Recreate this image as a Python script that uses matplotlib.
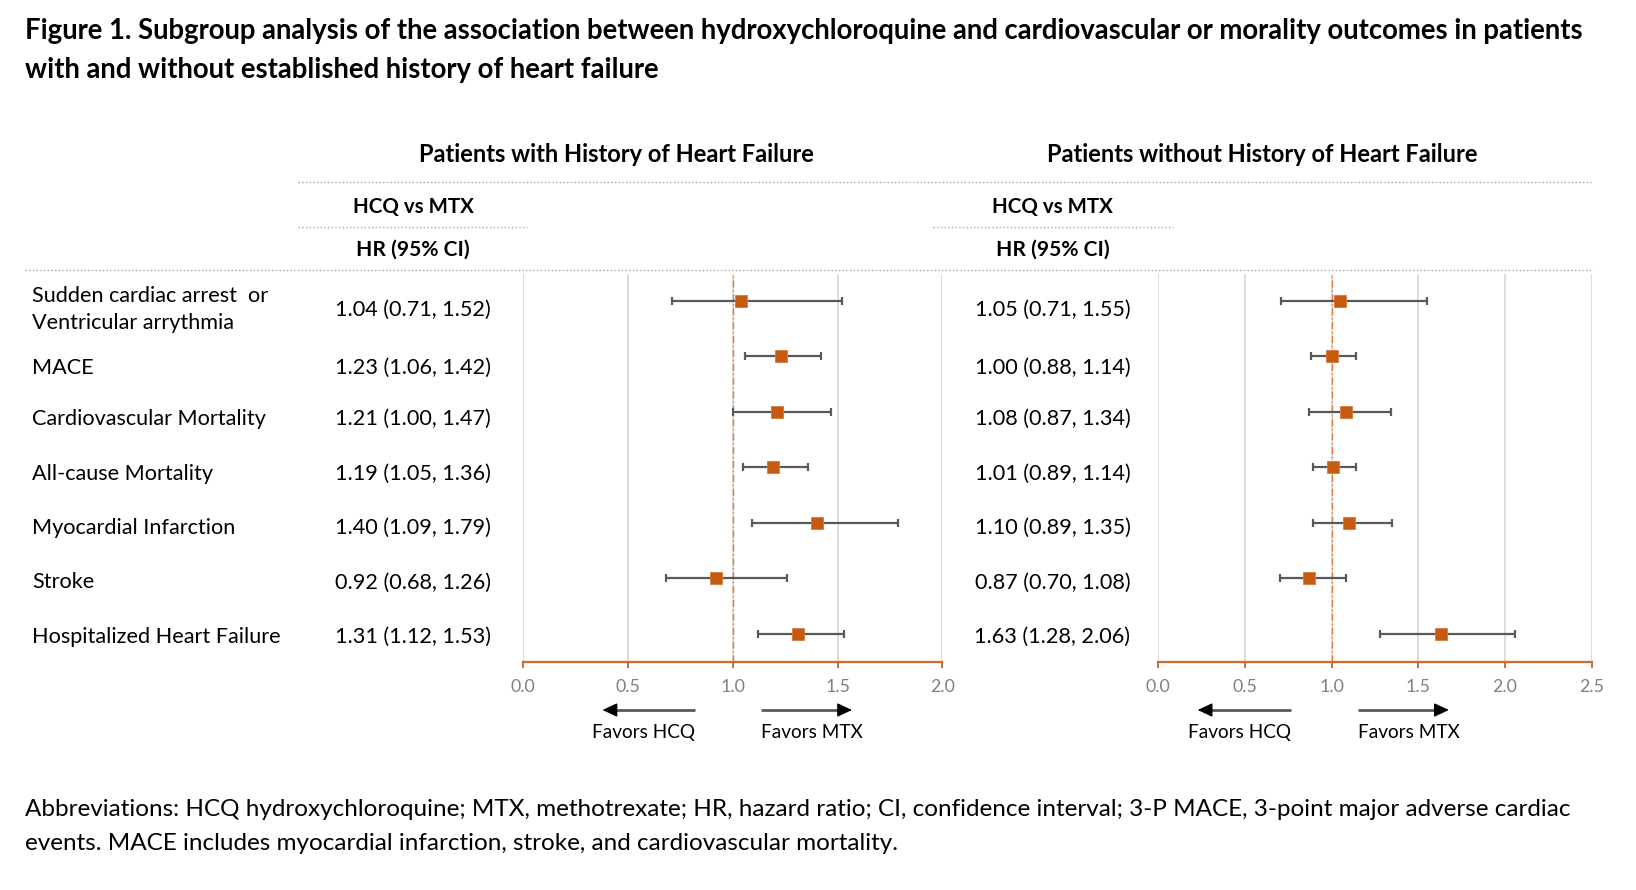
import matplotlib
matplotlib.use('Agg')
import matplotlib.pyplot as plt
import numpy as np
from matplotlib.ticker import FormatStrFormatter

plt.rcParams['font.family'] = ['Lato', 'DejaVu Sans']

# --- data ---
outcomes = ['Sudden cardiac arrest  or\nVentricular arrythmia', 'MACE', 'Cardiovascular Mortality',
            'All-cause Mortality', 'Myocardial Infarction', 'Stroke', 'Hospitalized Heart Failure']

hf_hr = [1.04, 1.23, 1.21, 1.19, 1.40, 0.92, 1.31]
hf_lo = [0.71, 1.06, 1.00, 1.05, 1.09, 0.68, 1.12]
hf_hi = [1.52, 1.42, 1.47, 1.36, 1.79, 1.26, 1.53]

nohf_hr = [1.05, 1.00, 1.08, 1.01, 1.10, 0.87, 1.63]
nohf_lo = [0.71, 0.88, 0.87, 0.89, 0.89, 0.70, 1.28]
nohf_hi = [1.55, 1.14, 1.34, 1.14, 1.35, 1.08, 2.06]

panel_titles = ['Patients with History of Heart Failure', 'Patients without History of Heart Failure']
x_max = [2.0, 2.5]

title_lines = ['Figure 1. Subgroup analysis of the association between hydroxychloroquine and cardiovascular or morality outcomes in patients',
               'with and without established history of heart failure']
note_lines = ['Abbreviations: HCQ hydroxychloroquine; MTX, methotrexate; HR, hazard ratio; CI, confidence interval; 3-P MACE, 3-point major adverse cardiac',
              'events. MACE includes myocardial infarction, stroke, and cardiovascular mortality.']

# --- layout (pixels of a 1636x890 canvas) ---
W, H = 1636, 890
ORANGE = '#C55A11'
GREY = '#595959'
DOT = '#A6A6A6'
FS = 15.6

fig = plt.figure(figsize=(W / 100, H / 100), dpi=100)
ov = fig.add_axes([0, 0, 1, 1])
ov.set_xlim(0, W)
ov.set_ylim(H, 0)
ov.axis('off')


def px_axes(x0, x1, y0, y1):
    return fig.add_axes([x0 / W, 1 - y1 / H, (x1 - x0) / W, (y1 - y0) / H])


for i, line in enumerate(title_lines):
    ov.text(25, 30.5 + 39.5 * i, line, fontsize=19.8, fontweight='bold', va='center', ha='left')

for i, line in enumerate(note_lines):
    ov.text(25, 810 + 34 * i, line, fontsize=17.5, va='center', ha='left')

# dotted header rules
ov.plot([298, 1593], [182.3, 182.3], color=DOT, lw=1, ls=':')
ov.plot([298, 527], [226.7, 226.7], color=DOT, lw=1, ls=':')
ov.plot([933, 1173], [226.7, 226.7], color=DOT, lw=1, ls=':')
ov.plot([25, 1593], [270, 270], color=DOT, lw=1, ls=':')

text_rows = [308, 366.7, 417.7, 472.7, 526.7, 581, 635.7]
for name, ty in zip(outcomes, text_rows):
    ov.text(32, ty + 1.5, name, fontsize=FS, va='center', ha='left', linespacing=1.42)

panels = [
    dict(hr=hf_hr, lo=hf_lo, hi=hf_hi, x0=523.3, x1=942.3, col=413, head=616.3),
    dict(hr=nohf_hr, lo=nohf_lo, hi=nohf_hi, x0=1158.3, x1=1591.7, col=1052.5, head=1262.5),
]

for p, ptitle, xm in zip(panels, panel_titles, x_max):
    ov.text(p['head'], 154, ptitle, fontsize=17.0, fontweight='bold', ha='center', va='center')
    ov.text(p['col'], 206.7, 'HCQ vs MTX', fontsize=14.8, fontweight='bold', ha='center', va='center')
    ov.text(p['col'], 250, 'HR (95% CI)', fontsize=15.1, fontweight='bold', ha='center', va='center')
    for hr, lo, hi, ty in zip(p['hr'], p['lo'], p['hi'], text_rows):
        ov.text(p['col'], ty + 1.5, f'{hr:.2f} ({lo:.2f}, {hi:.2f})', fontsize=FS, ha='center', va='center')

    ax = px_axes(p['x0'], p['x1'], 274, 662.3)
    ax.set_facecolor('none')
    hr = np.array(p['hr'])
    y = np.arange(len(hr))
    ax.errorbar(hr, y, xerr=[hr - np.array(p['lo']), np.array(p['hi']) - hr], fmt='none',
                ecolor=GREY, elinewidth=1.6, capsize=3.2, capthick=1.6, zorder=3)
    ax.plot(hr, y, 's', color=ORANGE, ms=8.6, mec='#D8783A', mew=0.6, zorder=4)
    ax.axvline(1.0, color='#E07B3C', lw=1, ls=(0, (5, 2, 1, 2)), zorder=2)
    ax.set_xlim(0, xm)
    ax.set_ylim(6.51, -0.48)
    ax.set_xticks(np.arange(0, xm + 0.01, 0.5))
    ax.xaxis.set_major_formatter(FormatStrFormatter('%.1f'))
    ax.set_yticks([])
    ax.xaxis.grid(True, color='#D9D9D9', lw=1.3)
    ax.set_axisbelow(True)
    for s in ['top', 'left', 'right']:
        ax.spines[s].set_visible(False)
    ax.spines['bottom'].set_color('#D0692A')
    ax.spines['bottom'].set_linewidth(1.6)
    ax.tick_params(axis='x', direction='out', length=4, width=1.4, color='#D0692A',
                   labelcolor='#808080', labelsize=12.8, pad=8)

    # favours arrows under the axis
    sx = (p['x1'] - p['x0']) / xm
    arrows = [(0.818, 0.378), (1.135, 1.569)] if xm == 2.0 else [(0.766, 0.227), (1.151, 1.676)]
    for k, (xt, xh) in enumerate(arrows):
        tail = p['x0'] + xt * sx
        tip = p['x0'] + xh * sx
        d = np.sign(tip - tail)
        ov.annotate('', xy=(tip, 710), xytext=(tip - d * 13, 710),
                    arrowprops=dict(arrowstyle='-|>,head_length=0.9,head_width=0.42', fc='black', ec='black',
                                    lw=1, shrinkA=0, shrinkB=0, mutation_scale=10))
        ov.plot([tail, tip - d * 11], [710, 710], color=GREY, lw=2, solid_capstyle='butt')
        if k == 0:
            ov.text(tail, 732.5, 'Favors HCQ', fontsize=13.7, ha='right', va='center')
        else:
            ov.text(tail, 732.5, 'Favors MTX', fontsize=13.7, ha='left', va='center')

fig.savefig('out.png', dpi=100, facecolor='white')
